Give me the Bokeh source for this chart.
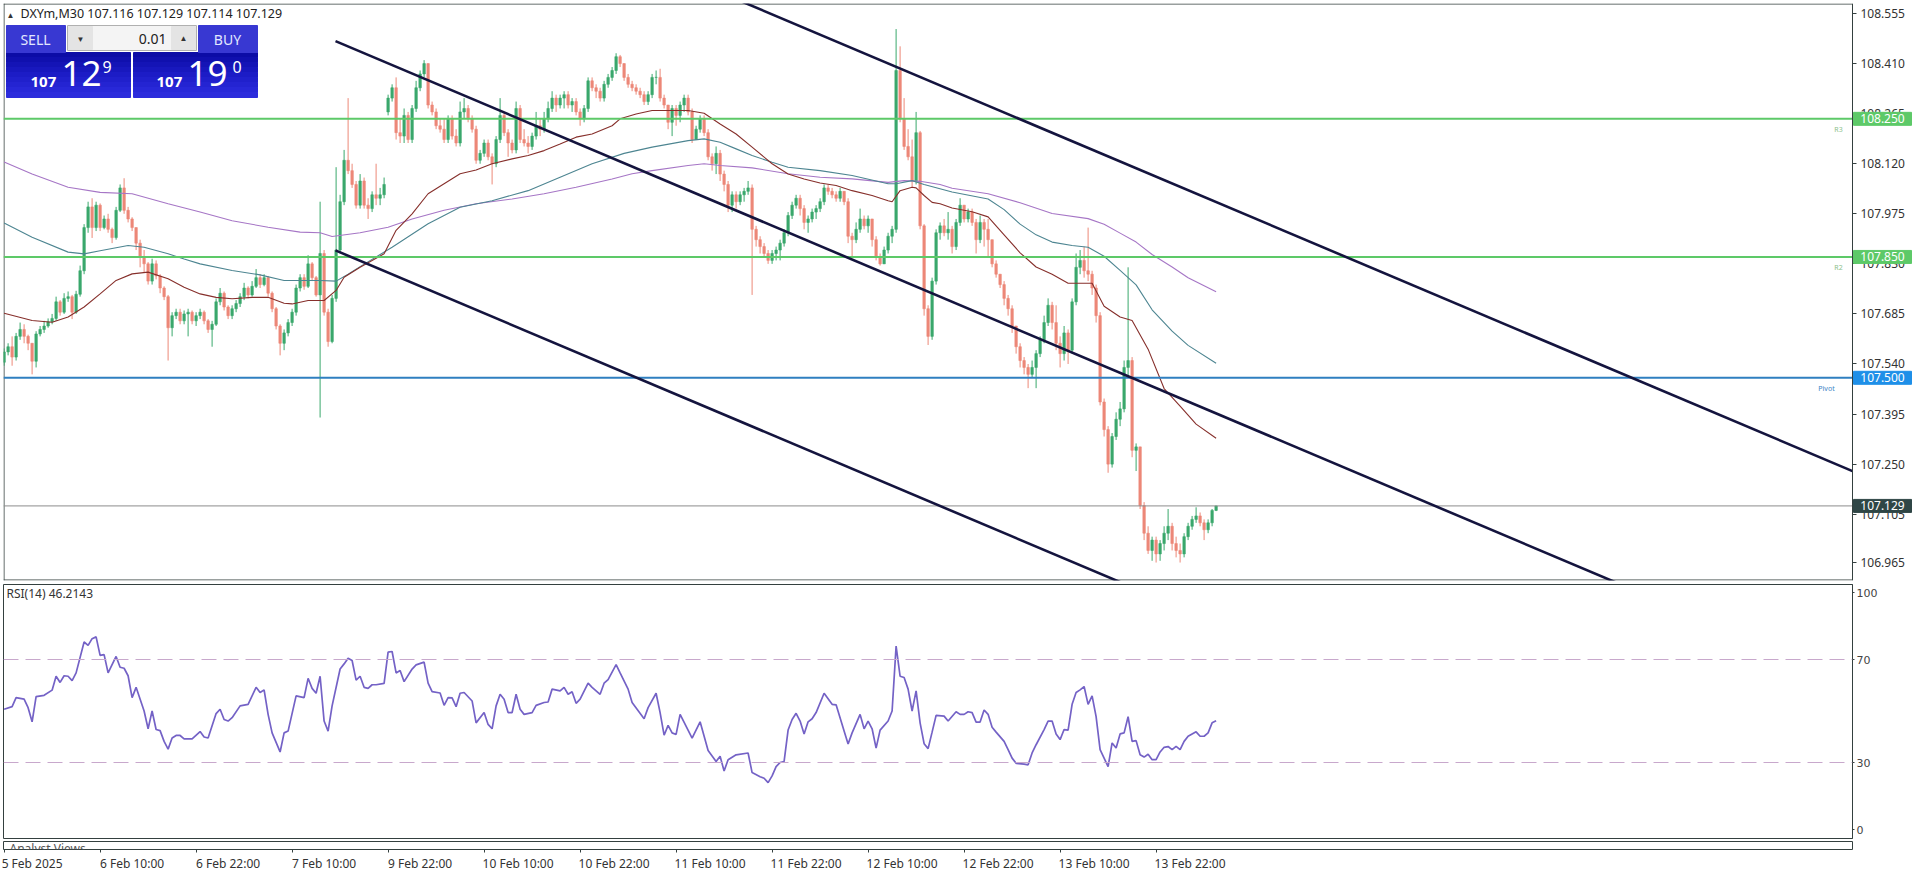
from bokeh.plotting import figure
from bokeh.layouts import column
from bokeh.models import (Range1d, LinearAxis, FixedTicker, Label, Span, ColumnDataSource,
                          PrintfTickFormatter, BoxAnnotation)
from bokeh.core.properties import value
from bokeh.embed import file_html
from bokeh.resources import INLINE

# ---------------- data ----------------
symbol = "DXYm,M30"
last_ohlc = ["107.116", "107.129", "107.114", "107.129"]
bid_text, ask_text = ("107", "12", "9"), ("107", "19", "0")
lot_text = "0.01"

closes = [
    107.575, 107.590, 107.560, 107.620, 107.640, 107.620, 107.600, 107.548, 107.627, 107.640,
    107.650, 107.662, 107.672, 107.720, 107.690, 107.730, 107.735, 107.690, 107.742, 107.810,
    107.935, 107.995, 107.935, 108.000, 107.935, 107.960, 107.930, 107.906, 107.985, 108.050,
    107.985, 107.960, 107.935, 107.890, 107.850, 107.830, 107.780, 107.830, 107.795, 107.760,
    107.735, 107.645, 107.680, 107.690, 107.665, 107.685, 107.690, 107.665, 107.680, 107.690,
    107.665, 107.640, 107.655, 107.720, 107.745, 107.705, 107.680, 107.700, 107.715, 107.735,
    107.760, 107.740, 107.765, 107.790, 107.770, 107.790, 107.745, 107.700, 107.650, 107.600,
    107.630, 107.660, 107.690, 107.760, 107.790, 107.765, 107.830, 107.790, 107.740, 107.860,
    107.690, 107.605, 107.730, 107.870, 108.010, 108.130, 108.100, 108.060, 108.000, 108.070,
    108.000, 107.990, 108.030, 108.020, 108.030, 108.060, 108.310, 108.340, 108.210, 108.200,
    108.260, 108.190, 108.280, 108.340, 108.380, 108.410, 108.290, 108.270, 108.230, 108.220,
    108.190, 108.250, 108.200, 108.180, 108.270, 108.280, 108.250, 108.220, 108.130, 108.150,
    108.180, 108.140, 108.120, 108.190, 108.260, 108.210, 108.180, 108.160, 108.280, 108.190,
    108.180, 108.170, 108.200, 108.230, 108.220, 108.250, 108.280, 108.310, 108.290, 108.310,
    108.320, 108.290, 108.300, 108.270, 108.250, 108.280, 108.360, 108.340, 108.330, 108.310,
    108.350, 108.370, 108.390, 108.430, 108.410, 108.370, 108.350, 108.340, 108.330, 108.320,
    108.300, 108.320, 108.370, 108.370, 108.310, 108.290, 108.240, 108.280, 108.260, 108.290,
    108.310, 108.270, 108.190, 108.220, 108.250, 108.210, 108.140, 108.120, 108.150, 108.090,
    108.060, 108.000, 108.030, 108.010, 108.030, 108.040, 108.050, 107.930, 107.900, 107.880,
    107.860, 107.840, 107.860, 107.870, 107.890, 107.920, 107.970, 108.000, 108.020, 107.990,
    107.950, 107.960, 107.980, 107.990, 108.010, 108.050, 108.040, 108.030, 108.020, 108.040,
    108.010, 107.910, 107.900, 107.930, 107.960, 107.940, 107.960, 107.900, 107.850, 107.830,
    107.870, 107.910, 107.930, 108.390, 108.250, 108.170, 108.140, 108.070, 108.210, 107.940,
    107.700, 107.620, 107.780, 107.920, 107.940, 107.920, 107.930, 107.880, 107.950, 108.000,
    107.960, 107.980, 107.950, 107.900, 107.950, 107.930, 107.900, 107.830, 107.800, 107.770,
    107.730, 107.700, 107.650, 107.590, 107.550, 107.530, 107.510, 107.530, 107.570, 107.610,
    107.660, 107.710, 107.660, 107.600, 107.570, 107.630, 107.580, 107.720, 107.820, 107.840,
    107.810, 107.800, 107.760, 107.680, 107.430, 107.350, 107.250, 107.330, 107.380, 107.410,
    107.530, 107.550, 107.290, 107.300, 107.130, 107.050, 107.000, 107.030, 106.990, 107.020,
    107.050, 107.070, 107.020, 107.000, 106.990, 107.040, 107.070, 107.090, 107.100, 107.080,
    107.060, 107.080, 107.116, 107.129,
]
highs = [
    107.585, 107.600, 107.620, 107.630, 107.660, 107.655, 107.625, 107.600, 107.635, 107.650,
    107.665, 107.672, 107.685, 107.735, 107.725, 107.745, 107.750, 107.740, 107.752, 107.825,
    107.945, 108.010, 108.020, 108.010, 108.005, 107.970, 107.975, 107.935, 107.995, 108.060,
    108.078, 107.995, 107.965, 107.935, 107.900, 107.870, 107.835, 107.845, 107.840, 107.800,
    107.765, 107.740, 107.690, 107.700, 107.700, 107.695, 107.700, 107.695, 107.690, 107.700,
    107.695, 107.670, 107.665, 107.730, 107.760, 107.750, 107.710, 107.710, 107.725, 107.745,
    107.775, 107.765, 107.780, 107.815, 107.800, 107.800, 107.795, 107.750, 107.705, 107.655,
    107.640, 107.670, 107.700, 107.770, 107.800, 107.800, 107.855, 107.835, 107.795, 108.010,
    107.870, 107.700, 107.740, 108.110, 108.030, 108.160, 108.310, 108.120, 108.070, 108.090,
    108.080, 108.020, 108.040, 108.120, 108.050, 108.080, 108.320, 108.350, 108.370, 108.250,
    108.280, 108.270, 108.290, 108.360, 108.390, 108.420, 108.410, 108.300, 108.280, 108.250,
    108.250, 108.260, 108.260, 108.220, 108.300, 108.310, 108.290, 108.260, 108.230, 108.160,
    108.190, 108.190, 108.150, 108.200, 108.310, 108.270, 108.220, 108.190, 108.300, 108.290,
    108.220, 108.200, 108.210, 108.270, 108.250, 108.270, 108.300, 108.330, 108.320, 108.320,
    108.330, 108.330, 108.310, 108.310, 108.280, 108.290, 108.370, 108.370, 108.350, 108.340,
    108.360, 108.380, 108.400, 108.440, 108.435, 108.410, 108.380, 108.360, 108.350, 108.340,
    108.330, 108.330, 108.380, 108.390, 108.395, 108.320, 108.290, 108.290, 108.290, 108.300,
    108.320, 108.320, 108.280, 108.230, 108.260, 108.260, 108.220, 108.150, 108.170, 108.160,
    108.100, 108.070, 108.040, 108.040, 108.040, 108.050, 108.070, 108.060, 107.940, 107.910,
    107.890, 107.870, 107.870, 107.880, 107.900, 107.930, 107.980, 108.010, 108.030, 108.030,
    108.000, 107.970, 107.990, 108.000, 108.020, 108.060, 108.060, 108.050, 108.040, 108.050,
    108.040, 108.020, 107.920, 107.950, 107.990, 107.970, 107.970, 107.960, 107.910, 107.860,
    107.880, 107.920, 107.940, 108.510, 108.460, 108.310, 108.220, 108.190, 108.270, 108.215,
    107.945, 107.710, 107.790, 107.930, 107.950, 107.960, 107.980, 107.940, 107.960, 108.020,
    108.000, 107.990, 107.990, 107.960, 107.970, 107.960, 107.960, 107.900, 107.840, 107.800,
    107.780, 107.740, 107.710, 107.650, 107.600, 107.560, 107.540, 107.550, 107.580, 107.620,
    107.680, 107.730, 107.720, 107.710, 107.620, 107.650, 107.640, 107.730, 107.860, 107.870,
    107.880, 107.935, 107.810, 107.770, 107.690, 107.440, 107.360, 107.340, 107.400, 107.430,
    107.550, 107.820, 107.560, 107.310, 107.300, 107.140, 107.070, 107.040, 107.040, 107.030,
    107.070, 107.120, 107.080, 107.040, 107.020, 107.050, 107.080, 107.100, 107.125, 107.110,
    107.090, 107.090, 107.120, 107.129,
]
lows = [
    107.535, 107.565, 107.535, 107.550, 107.610, 107.600, 107.580, 107.510, 107.530, 107.620,
    107.630, 107.645, 107.655, 107.665, 107.680, 107.685, 107.720, 107.670, 107.685, 107.735,
    107.800, 107.920, 107.905, 107.925, 107.925, 107.930, 107.920, 107.890, 107.900, 107.980,
    107.975, 107.950, 107.925, 107.870, 107.820, 107.805, 107.770, 107.770, 107.785, 107.745,
    107.725, 107.550, 107.620, 107.670, 107.655, 107.655, 107.620, 107.655, 107.650, 107.670,
    107.655, 107.630, 107.590, 107.650, 107.710, 107.695, 107.670, 107.670, 107.690, 107.705,
    107.725, 107.730, 107.735, 107.760, 107.760, 107.765, 107.735, 107.690, 107.640, 107.565,
    107.580, 107.620, 107.650, 107.680, 107.750, 107.755, 107.760, 107.780, 107.735, 107.385,
    107.680, 107.590, 107.600, 107.720, 107.860, 108.000, 108.090, 108.050, 107.990, 107.990,
    107.990, 107.960, 107.980, 108.000, 108.000, 108.020, 108.260, 108.300, 108.190, 108.180,
    108.180, 108.180, 108.180, 108.270, 108.330, 108.370, 108.280, 108.260, 108.220, 108.210,
    108.180, 108.180, 108.190, 108.170, 108.170, 108.250, 108.240, 108.210, 108.120, 108.120,
    108.140, 108.130, 108.060, 108.110, 108.180, 108.200, 108.140, 108.150, 108.150, 108.180,
    108.170, 108.150, 108.160, 108.190, 108.200, 108.210, 108.240, 108.270, 108.270, 108.280,
    108.280, 108.280, 108.270, 108.260, 108.230, 108.240, 108.270, 108.330, 108.310, 108.300,
    108.300, 108.340, 108.360, 108.380, 108.400, 108.360, 108.340, 108.330, 108.320, 108.310,
    108.290, 108.290, 108.310, 108.350, 108.300, 108.280, 108.220, 108.200, 108.230, 108.240,
    108.270, 108.260, 108.180, 108.190, 108.210, 108.200, 108.130, 108.100, 108.090, 108.070,
    108.040, 107.980, 107.980, 107.990, 108.000, 108.010, 108.030, 107.740, 107.880, 107.860,
    107.850, 107.830, 107.830, 107.840, 107.840, 107.880, 107.910, 107.960, 107.990, 107.970,
    107.930, 107.920, 107.950, 107.960, 107.980, 108.000, 108.030, 108.020, 108.010, 108.010,
    108.000, 107.890, 107.850, 107.890, 107.920, 107.930, 107.920, 107.880, 107.840, 107.825,
    107.830, 107.860, 107.890, 107.920, 108.240, 108.160, 108.130, 108.050, 108.060, 107.930,
    107.680, 107.595, 107.610, 107.770, 107.900, 107.910, 107.900, 107.860, 107.870, 107.940,
    107.950, 107.950, 107.940, 107.860, 107.890, 107.880, 107.850, 107.820, 107.790, 107.760,
    107.710, 107.680, 107.630, 107.570, 107.530, 107.510, 107.470, 107.500, 107.470, 107.560,
    107.600, 107.650, 107.640, 107.580, 107.530, 107.550, 107.540, 107.570, 107.710, 107.800,
    107.790, 107.780, 107.740, 107.660, 107.420, 107.330, 107.225, 107.240, 107.320, 107.360,
    107.400, 107.500, 107.270, 107.230, 107.120, 107.030, 106.990, 106.970, 106.965, 106.970,
    107.000, 107.030, 107.000, 106.980, 106.965, 106.980, 107.030, 107.060, 107.080, 107.070,
    107.030, 107.050, 107.070, 107.114,
]
first_open = 107.545
gap_opens = {96: 108.270}   # weekend gap: Sunday open

# moving averages (bar index, value)
ma_fast = [(0, 107.687), (7, 107.666), (12, 107.661), (16, 107.676), (20, 107.705), (24, 107.743),
           (28, 107.782), (32, 107.801), (36, 107.806), (41, 107.787), (45, 107.762), (49, 107.743),
           (53, 107.733), (57, 107.729), (62, 107.733), (66, 107.733), (70, 107.716), (72, 107.714),
           (76, 107.724), (80, 107.724), (83, 107.753), (85, 107.791), (89, 107.820), (95, 107.859),
           (98, 107.927), (102, 107.975), (106, 108.033), (110, 108.062), (114, 108.091), (118, 108.102),
           (122, 108.120), (127, 108.134), (131, 108.144), (135, 108.158), (139, 108.177), (143, 108.197),
           (147, 108.206), (152, 108.230), (154, 108.250), (158, 108.264), (162, 108.274), (167, 108.274),
           (171, 108.274), (175, 108.266), (179, 108.235), (183, 108.206), (187, 108.168), (192, 108.120),
           (196, 108.090), (200, 108.076), (204, 108.064), (208, 108.057), (212, 108.042), (217, 108.028),
           (221, 108.013), (222, 108.010), (224, 108.042), (227, 108.052), (228, 108.050), (230, 108.028),
           (232, 108.008), (234, 108.004), (237, 107.992), (242, 107.981), (246, 107.966), (250, 107.914),
           (254, 107.862), (258, 107.821), (262, 107.800), (266, 107.774), (272, 107.774), (275, 107.707),
           (279, 107.676), (282, 107.666), (286, 107.583), (290, 107.469), (294, 107.418), (298, 107.366),
           (303, 107.325)]
ma_mid = [(0, 107.948), (7, 107.907), (16, 107.864), (20, 107.859), (24, 107.868), (31, 107.883),
          (35, 107.878), (41, 107.859), (45, 107.844), (49, 107.830), (57, 107.811), (64, 107.798),
          (70, 107.782), (79, 107.782), (83, 107.780), (86, 107.800), (89, 107.822), (97, 107.878),
          (106, 107.946), (114, 107.994), (122, 108.013), (131, 108.042), (139, 108.081), (147, 108.120),
          (155, 108.150), (162, 108.168), (171, 108.187), (175, 108.192), (179, 108.182), (183, 108.163),
          (187, 108.144), (192, 108.124), (196, 108.110), (204, 108.100), (212, 108.086), (221, 108.062),
          (223, 108.062), (227, 108.071), (230, 108.060), (237, 108.038), (246, 108.018), (250, 107.987),
          (254, 107.945), (258, 107.914), (262, 107.893), (267, 107.883), (271, 107.878), (275, 107.852),
          (279, 107.811), (283, 107.769), (287, 107.697), (292, 107.635), (296, 107.594), (303, 107.542)]
ma_slow = [(0, 108.125), (7, 108.090), (16, 108.052), (24, 108.037), (32, 108.033), (41, 108.004),
           (49, 107.980), (57, 107.955), (66, 107.936), (74, 107.922), (79, 107.920), (82, 107.909),
           (89, 107.920), (96, 107.936), (102, 107.960), (110, 107.985), (118, 108.004), (127, 108.018),
           (135, 108.033), (143, 108.052), (152, 108.076), (157, 108.091), (162, 108.100), (171, 108.115),
           (175, 108.120), (179, 108.115), (187, 108.108), (196, 108.091), (204, 108.081), (212, 108.076),
           (221, 108.066), (225, 108.071), (229, 108.069), (234, 108.060), (237, 108.049), (246, 108.033),
           (254, 108.007), (262, 107.976), (271, 107.961), (275, 107.945), (279, 107.919), (283, 107.893),
           (287, 107.857), (292, 107.821), (296, 107.790), (303, 107.749)]

rsi = [(0, 50.7), (2, 51.7), (3, 55.2), (5, 54.6), (6, 51.3), (7, 45.8), (8, 55.6), (10, 56.1), (12, 58.1),
       (13, 63.5), (14, 61.1), (15, 63.7), (16, 63.5), (17, 61.8), (18, 64.8), (20, 76.8), (21, 75.5),
       (22, 78.1), (23, 78.8), (24, 71.6), (25, 71.9), (26, 64.8), (28, 71.2), (29, 67.0), (30, 66.6),
       (31, 63.7), (32, 55.2), (33, 59.2), (35, 50.0), (36, 43.1), (37, 50.0), (38, 42.8), (39, 42.4),
       (40, 38.2), (41, 35.2), (42, 39.5), (43, 40.5), (44, 40.5), (45, 39.2), (47, 39.2), (49, 42.0),
       (50, 39.9), (51, 39.5), (53, 49.0), (54, 50.7), (55, 46.7), (56, 46.1), (57, 47.4), (59, 52.0),
       (61, 52.6), (63, 59.2), (64, 57.2), (65, 58.2), (66, 48.7), (67, 41.5), (69, 34.1), (70, 41.5),
       (71, 42.2), (73, 55.9), (75, 55.2), (76, 62.7), (77, 58.8), (78, 56.9), (79, 63.5), (80, 46.1),
       (81, 42.2), (82, 52.0), (84, 66.3), (85, 68.3), (86, 70.5), (87, 69.6), (88, 62.0), (89, 63.5),
       (90, 59.2), (91, 58.8), (92, 60.2), (93, 60.2), (95, 60.7), (96, 72.9), (97, 73.1), (98, 64.8),
       (99, 65.7), (100, 61.4), (102, 66.3), (103, 67.9), (105, 69.0), (106, 60.8), (107, 57.5),
       (109, 57.0), (110, 52.2), (111, 55.2), (112, 55.1), (113, 51.7), (114, 56.9), (115, 57.2),
       (117, 53.9), (118, 45.4), (120, 49.4), (121, 44.8), (122, 43.1), (123, 52.0), (124, 56.5),
       (125, 54.6), (126, 49.4), (127, 49.4), (128, 56.5), (129, 50.7), (130, 48.7), (132, 49.4),
       (133, 52.2), (135, 53.3), (136, 53.5), (137, 58.5), (139, 57.8), (140, 59.2), (141, 56.5),
       (142, 57.5), (143, 53.0), (144, 54.6), (146, 60.8), (147, 59.2), (149, 56.5), (150, 60.8),
       (151, 62.2), (153, 68.0), (154, 64.8), (156, 58.5), (157, 53.3), (160, 47.0), (161, 51.3),
       (163, 56.9), (164, 49.4), (165, 40.6), (166, 44.4), (167, 41.5), (168, 40.9), (169, 48.7),
       (172, 39.5), (174, 45.8), (176, 34.7), (178, 30.4), (179, 32.4), (180, 26.7), (181, 31.1),
       (183, 33.0), (186, 33.7), (187, 26.1), (189, 24.5), (190, 23.9), (191, 22.2), (192, 24.8),
       (193, 28.4), (194, 30.0), (195, 30.4), (196, 42.6), (197, 46.7), (198, 49.1), (199, 46.1),
       (200, 41.1), (201, 45.8), (202, 47.0), (203, 49.4), (205, 56.9), (207, 52.6), (208, 52.4),
       (210, 42.2), (211, 37.2), (212, 41.5), (214, 48.7), (215, 43.1), (216, 46.1), (217, 43.1),
       (218, 35.6), (219, 42.6), (221, 46.1), (222, 50.0), (223, 75.2), (224, 63.5), (225, 63.0),
       (226, 58.5), (227, 50.0), (228, 57.8), (229, 45.4), (230, 37.3), (231, 35.4), (232, 41.8),
       (233, 48.3), (235, 48.0), (236, 46.1), (238, 49.7), (239, 48.7), (240, 48.7), (241, 49.7),
       (242, 49.4), (243, 45.7), (244, 45.7), (245, 50.4), (246, 48.7), (247, 43.7), (248, 41.8),
       (250, 38.2), (251, 35.0), (252, 31.7), (253, 29.7), (255, 29.4), (256, 29.1), (257, 33.7),
       (258, 36.9), (260, 42.8), (261, 46.1), (262, 46.1), (263, 41.1), (264, 38.9), (265, 42.8),
       (266, 42.6), (267, 52.6), (268, 57.2), (269, 58.2), (270, 59.5), (271, 52.6), (272, 55.9),
       (273, 47.8), (274, 35.0), (275, 31.7), (276, 28.4), (277, 37.6), (278, 35.6), (279, 41.1),
       (280, 41.5), (281, 47.8), (282, 38.2), (283, 38.5), (284, 33.0), (285, 32.1), (286, 33.2),
       (287, 31.1), (288, 31.1), (289, 34.1), (290, 35.9), (291, 36.2), (292, 35.0), (293, 36.3),
       (294, 35.0), (295, 38.2), (296, 40.2), (298, 41.9), (299, 40.2), (300, 40.2), (301, 41.5),
       (302, 45.4), (303, 46.2)]
rsi_title = "RSI(14) 46.2143"
rsi_levels = [70, 30]
rsi_tick_labels = ["100", "70", "30", "0"]

levels = {"R3": 108.250, "R2": 107.850, "Pivot": 107.500}
bid_price = 107.129

# trend channel: anchor bar indices and prices of the three parallel lines
channel_x = [82.85, 465.0]
channel_mid = [108.475, 106.6036]
channel_low = [107.869, 105.9976]
channel_up = [109.087, 107.2156]

price_ticks = [108.555, 108.410, 108.265, 108.120, 107.975, 107.830, 107.685, 107.540,
               107.395, 107.250, 107.105, 106.965]
time_tick_bars = [0, 24, 48, 72, 96, 120, 144, 168, 192, 216, 240, 264, 288]
time_tick_labels = ["5 Feb 2025", "6 Feb 10:00", "6 Feb 22:00", "7 Feb 10:00", "9 Feb 22:00",
                    "10 Feb 10:00", "10 Feb 22:00", "11 Feb 10:00", "11 Feb 22:00", "12 Feb 10:00",
                    "12 Feb 22:00", "13 Feb 10:00", "13 Feb 22:00"]

# ---------------- layout constants ----------------
W = 1916
H1, H2, H3 = 583, 257, 34
FRAME_L, FRAME_R = 3, 1852
PXB = 4.0                      # pixels per bar
X0 = -0.15
X1 = X0 + (FRAME_R - FRAME_L) / PXB          # bar index at the price-scale line
P_TOP, P_BOT = 108.584, 106.913                # price frame 3..580
PPX = (P_TOP - P_BOT) / 577.0                  # price per pixel
R_TOP, R_BOT = 99.13, 0.49                     # rsi frame 584..838

BULL, BEAR = "#3aa86c", "#ec8878"
FRAME_COL = "#34403f"
FONT = "Noto Sans"


def sx(px):
    return X0 + (px - FRAME_L) / PXB


def sy(py):
    return P_TOP - (py - 3) * PPX


def ry(py):
    return R_TOP - (py - 584) * (R_TOP - R_BOT) / 254.0


# ---------------- price panel ----------------
# the frame runs under the price scale too (to the window edge), so the scale tags can be
# drawn there; the price axis itself sits at the scale line (fixed location)
FW1 = W + 1 - FRAME_L
p = figure(frame_width=FW1, frame_height=577, x_range=Range1d(X0, X0 + FW1 / PXB),
           y_range=Range1d(P_BOT, P_TOP), output_backend="svg", toolbar_location=None,
           x_axis_location=None, y_axis_location=None, min_border_left=FRAME_L,
           min_border_right=0, min_border_top=3, min_border_bottom=3)
p.grid.visible = False
p.outline_line_color = None

yax = LinearAxis(fixed_location=X1, ticker=FixedTicker(ticks=price_ticks, minor_ticks=[]),
                 formatter=PrintfTickFormatter(format="%.3f"),
                 major_label_text_font=FONT, major_label_text_font_size="12px",
                 major_label_text_color="#333333", axis_line_color=FRAME_COL,
                 major_tick_line_color=FRAME_COL, major_tick_out=4, major_tick_in=0,
                 minor_tick_out=0, minor_tick_in=0, major_label_standoff=4)
p.add_layout(yax, "right")

# frame border (left, top, bottom) of the chart area
p.line([X0 + 0.5 / PXB] * 2, [P_BOT, P_TOP], line_color=FRAME_COL, line_width=1)
p.line([X0, X1], [P_TOP - 0.5 * PPX] * 2, line_color=FRAME_COL, line_width=1)
p.line([X0, X1], [P_BOT + 0.5 * PPX] * 2, line_color=FRAME_COL, line_width=1)

idx = list(range(len(closes)))
opens = []
for i in idx:
    if i == 0:
        opens.append(first_open)
    elif i in gap_opens:
        opens.append(gap_opens[i])
    else:
        opens.append(closes[i - 1])
cols = [BULL if c >= o else BEAR for o, c in zip(opens, closes)]
src = ColumnDataSource(dict(x=idx, o=opens, c=closes, h=highs, l=lows,
                            top=[max(o, c) for o, c in zip(opens, closes)],
                            bot=[min(o, c) for o, c in zip(opens, closes)], col=cols))
p.segment(x0="x", y0="l", x1="x", y1="h", source=src, line_color="col", line_width=1)
p.vbar(x="x", width=0.62, top="top", bottom="bot", source=src, fill_color="col",
       line_color="col", line_width=0.6)

for data, colr in ((ma_slow, "#a676c6"), (ma_mid, "#4d8591"), (ma_fast, "#862f2b")):
    xs, ys = zip(*data)
    p.line(list(xs), list(ys), line_color=colr, line_width=1.1)

# horizontal levels, drawn up to the price scale
for name, lvl in levels.items():
    colr = "#2f7fc0" if name == "Pivot" else "#5dc968"
    p.line([X0, X1], [lvl, lvl], line_color=colr, line_width=2)
p.line([X0, X1], [bid_price, bid_price], line_color="#8c8c8c", line_width=1)

# channel lines, cut at the price scale
for ys in (channel_up, channel_mid, channel_low):
    y_end = ys[0] + (ys[1] - ys[0]) * (X1 - channel_x[0]) / (channel_x[1] - channel_x[0])
    p.line([channel_x[0], X1], [ys[0], y_end], line_color="#14143e", line_width=2.6)

# level captions
p.add_layout(Label(x=sx(1838), y=sy(129), text="R3", text_align="center", text_baseline="middle",
                   text_font=FONT, text_font_size="7px", text_color="#8cbf8c"))
p.add_layout(Label(x=sx(1838), y=sy(267), text="R2", text_align="center", text_baseline="middle",
                   text_font=FONT, text_font_size="7px", text_color="#8cbf8c"))
p.add_layout(Label(x=sx(1826), y=sy(388), text="Pivot", text_align="center", text_baseline="middle",
                   text_font=FONT, text_font_size="7px", text_color="#3d85c6"))

# price tags on the scale
for val, bg in ((levels["R3"], "#5dc968"), (levels["R2"], "#5dc968"),
                (levels["Pivot"], "#1e8fe8"), (bid_price, "#2f4646")):
    p.add_layout(BoxAnnotation(left=X1 + 0.25, right=X1 + 14.75, top=val + 6.5 * PPX,
                               bottom=val - 6.5 * PPX, fill_color=bg, fill_alpha=1.0,
                               line_color=bg, line_alpha=1.0, line_width=1))
    p.add_layout(Label(x=X1 + 7.5, y=val, text="%.3f" % val, text_align="center",
                       text_baseline="middle", text_font=FONT, text_font_size="12px",
                       text_color="white"))

# header
p.add_layout(Label(x=sx(6), y=sy(14), text="\u25b2", text_baseline="middle", text_font=FONT,
                   text_font_size="8px", text_color="#333333"))
p.add_layout(Label(x=sx(20), y=sy(13), text=symbol + "  " + " ".join(last_ohlc),
                   text_baseline="middle", text_font=FONT, text_font_size="12.5px",
                   text_color="#222222"))


# one-click trading panel
def box(l, t, r, b, fill, line=None):
    p.quad(left=sx(l), right=sx(r), top=sy(t), bottom=sy(b), fill_color=fill,
           line_color=line if line else fill, line_width=1)


grad = ["#0c0ca6", "#1010ae", "#1414b6", "#1818be", "#1c1cc6", "#2020cc", "#2424d2", "#2828d8", "#2c2cdc"]
for left, right in ((6, 130), (133, 257)):
    step = 45.0 / len(grad)
    for k, gcol in enumerate(grad):
        box(left, 52 + k * step, right, 52 + (k + 1) * step, gcol)
box(6, 25, 65, 52, "#3838d2")
box(198, 25, 257, 52, "#3838d2")
box(67, 25, 196, 50, "#f4f4f4", "#b0b0b0")
box(68, 26, 92, 49, "#e4e4e4")
box(171, 26, 195, 49, "#e4e4e4")

p.add_layout(Label(x=sx(35), y=sy(39), text="SELL", text_align="center", text_baseline="middle",
                   text_font=FONT, text_font_size="14px", text_color="#e2e8ff"))
p.add_layout(Label(x=sx(227), y=sy(39), text="BUY", text_align="center", text_baseline="middle",
                   text_font=FONT, text_font_size="14px", text_color="#e2e8ff"))
p.add_layout(Label(x=sx(80), y=sy(38), text="\u25bc", text_align="center", text_baseline="middle",
                   text_font=FONT, text_font_size="8px", text_color="#333333"))
p.add_layout(Label(x=sx(183), y=sy(37), text="\u25b2", text_align="center", text_baseline="middle",
                   text_font=FONT, text_font_size="8px", text_color="#333333"))
p.add_layout(Label(x=sx(166), y=sy(38), text=lot_text, text_align="right", text_baseline="middle",
                   text_font=FONT, text_font_size="14px", text_color="#222222"))

for (small, big, sup), (x_small, x_big, x_sup) in ((bid_text, (30, 61, 102)), (ask_text, (156, 187, 232))):
    p.add_layout(Label(x=sx(x_small), y=sy(81), text=small, text_align="left",
                       text_baseline="middle", text_font=FONT, text_font_size="15px",
                       text_font_style="bold", text_color="white"))
    p.add_layout(Label(x=sx(x_big), y=sy(73), text=big, text_align="left",
                       text_baseline="middle", text_font=FONT, text_font_size="35px",
                       text_color="white"))
    p.add_layout(Label(x=sx(x_sup), y=sy(66), text=sup, text_align="left",
                       text_baseline="middle", text_font=FONT, text_font_size="16px",
                       text_color="white"))

# ---------------- RSI panel ----------------
r = figure(width=W, height=H2, x_range=Range1d(X0, X1), y_range=Range1d(R_BOT, R_TOP),
           output_backend="svg", toolbar_location=None, x_axis_location=None,
           y_axis_location="right", min_border_left=FRAME_L, min_border_right=W - FRAME_R,
           min_border_top=1, min_border_bottom=2)
r.grid.visible = False
r.outline_line_color = FRAME_COL
rsi_ticks = [ry(592), 70, 30, ry(829)]
r.yaxis.ticker = FixedTicker(ticks=rsi_ticks, minor_ticks=[])
r.yaxis.major_label_overrides = {t: s for t, s in zip(rsi_ticks, rsi_tick_labels)}
r.yaxis.major_label_text_font = "DejaVu Sans"
r.yaxis.major_label_text_font_size = "11px"
r.yaxis.major_label_text_color = "#444444"
r.yaxis.axis_line_color = FRAME_COL
r.yaxis.major_tick_line_color = FRAME_COL
r.yaxis.major_tick_out = 2
r.yaxis.major_tick_in = 0
r.yaxis.major_label_standoff = 2
for lv in rsi_levels:
    r.add_layout(Span(location=lv, dimension="width", line_color="#c8a8cc", line_width=1,
                      line_dash="15 7"))
rx, rv = zip(*rsi)
r.line(list(rx), list(rv), line_color="#7462c6", line_width=1.7)
r.add_layout(Label(x=sx(6), y=ry(593), text=rsi_title, text_baseline="middle", text_font=FONT,
                   text_font_size="12px", text_color="#333333"))

# ---------------- bottom strip + time axis ----------------
b = figure(width=W, height=H3, x_range=Range1d(X0, X1), y_range=Range1d(0, 1),
           output_backend="svg", toolbar_location=None, x_axis_location=None,
           y_axis_location=None, min_border_left=FRAME_L, min_border_right=W - FRAME_R,
           min_border_top=1, min_border_bottom=24)
b.grid.visible = False
b.outline_line_color = FRAME_COL
b.text(x=[sx(9)], y=[0.1], text=["Analyst Views"], text_font=value(FONT), text_font_size="12px",
       text_color="#555555", text_baseline="middle")

tick_axis = LinearAxis(ticker=FixedTicker(ticks=time_tick_bars, minor_ticks=[]),
                       major_tick_in=0, major_tick_out=3, minor_tick_in=0, minor_tick_out=0,
                       major_label_text_font_size="0px", major_label_standoff=0,
                       major_label_overrides={t: "" for t in time_tick_bars},
                       axis_line_color=None, major_tick_line_color=FRAME_COL)
label_pos = [t + round(((6.0 * len(s)) / 2.0 - 1.5) / PXB * 4) / 4.0
             for t, s in zip(time_tick_bars, time_tick_labels)]
label_axis = LinearAxis(ticker=FixedTicker(ticks=label_pos, minor_ticks=[]),
                        major_tick_in=0, major_tick_out=0, minor_tick_in=0, minor_tick_out=0,
                        major_label_overrides={pos: s for pos, s in zip(label_pos, time_tick_labels)},
                        major_label_text_font=FONT, major_label_text_font_size="12px",
                        major_label_text_color="#333333", major_label_standoff=2,
                        axis_line_color=None)
b.add_layout(tick_axis, "below")
b.add_layout(label_axis, "below")

layout = column(p, r, b, spacing=0)
html = file_html(layout, INLINE, title="DXYm,M30")
html = html.replace("<body>", '<body style="margin:0;padding:0;overflow:hidden">', 1)
open("out.html", "w").write(html)
